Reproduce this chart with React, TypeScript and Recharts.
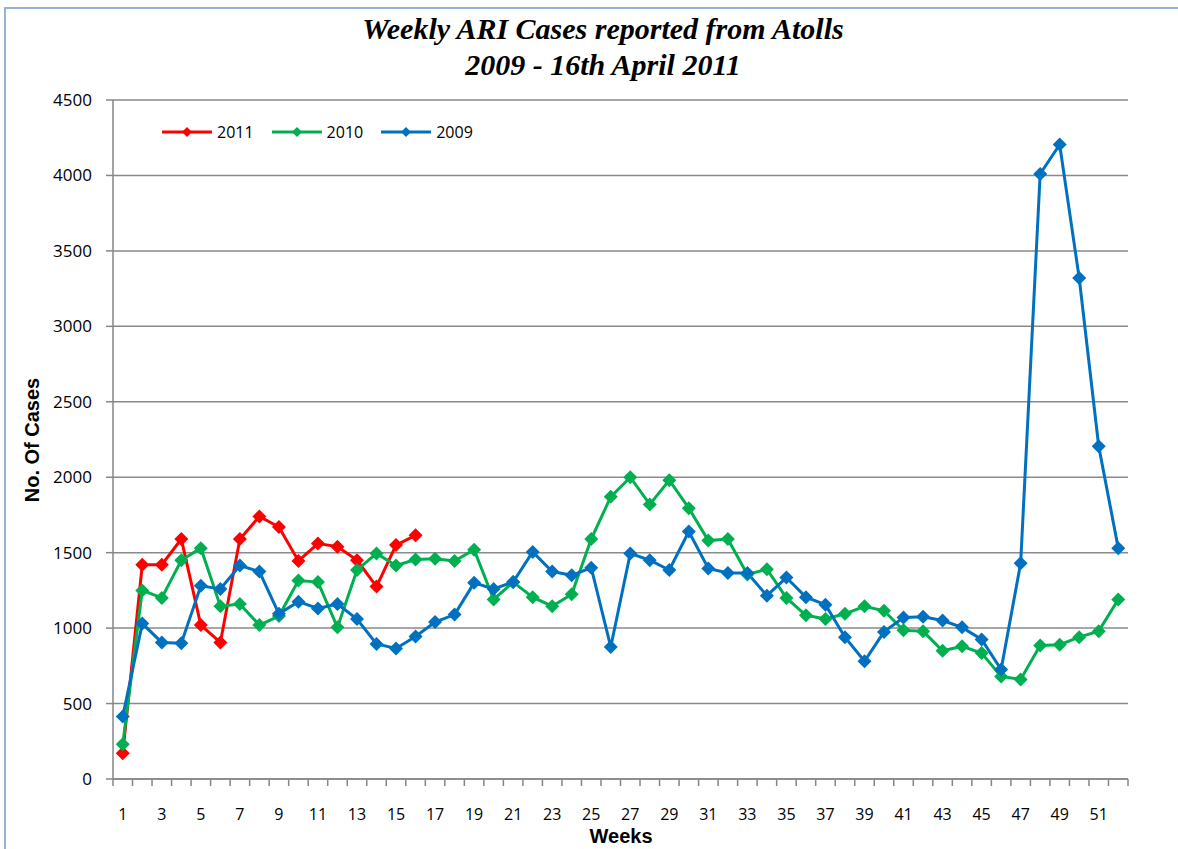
import { LineChart, Line, XAxis, YAxis, CartesianGrid } from "recharts";

const weeks = [
  1, 2, 3, 4, 5, 6, 7, 8, 9, 10, 11, 12, 13, 14, 15, 16, 17, 18, 19, 20, 21, 22, 23, 24, 25, 26,
  27, 28, 29, 30, 31, 32, 33, 34, 35, 36, 37, 38, 39, 40, 41, 42, 43, 44, 45, 46, 47, 48, 49, 50, 51, 52,
];

const cases2011 = [170, 1420, 1420, 1590, 1020, 905, 1590, 1740, 1670, 1445, 1560, 1540, 1450, 1275, 1550, 1615];

const cases2010 = [
  230, 1250, 1200, 1450, 1530, 1145, 1160, 1020, 1080, 1315, 1305, 1005, 1385, 1495, 1415, 1455, 1460,
  1445, 1520, 1190, 1305, 1205, 1145, 1225, 1590, 1870, 2000, 1820, 1980, 1795, 1580, 1590, 1355, 1390,
  1200, 1085, 1060, 1095, 1145, 1115, 985, 980, 850, 880, 835, 680, 660, 885, 890, 940, 980, 1190,
];

const cases2009 = [
  415, 1030, 905, 900, 1280, 1260, 1415, 1375, 1095, 1175, 1130, 1160, 1060, 895, 865, 945, 1040,
  1090, 1300, 1260, 1305, 1505, 1375, 1350, 1400, 875, 1495, 1450, 1385, 1640, 1395, 1365, 1365, 1215,
  1335, 1205, 1155, 940, 780, 975, 1070, 1075, 1050, 1005, 925, 725, 1430, 4010, 4205, 3320, 2205, 1530,
];

const xTickLabels = [1, 3, 5, 7, 9, 11, 13, 15, 17, 19, 21, 23, 25, 27, 29, 31, 33, 35, 37, 39, 41, 43, 45, 47, 49, 51];
const yTicks = [0, 500, 1000, 1500, 2000, 2500, 3000, 3500, 4000, 4500];

const series = [
  { key: "y2011", name: "2011", color: "#ff0000" },
  { key: "y2010", name: "2010", color: "#00b050" },
  { key: "y2009", name: "2009", color: "#0070c0" },
];

const data = weeks.map((w, i) => ({
  week: w,
  y2011: cases2011[i],
  y2010: cases2010[i],
  y2009: cases2009[i],
}));

// tick marks sit between weeks, labels on odd weeks
const boundaryTicks = weeks.map((w) => w - 0.5).concat(weeks[weeks.length - 1] + 0.5);
const allXTicks = [...boundaryTicks, ...xTickLabels];

const axisGray = "#868686";

function Diamond({ cx, cy, fill, r = 7 }: any) {
  if (cx == null || cy == null) return null;
  return <path d={`M${cx},${cy - r}L${cx + r},${cy}L${cx},${cy + r}L${cx - r},${cy}Z`} fill={fill} />;
}

function XTick({ x, y, payload }: any) {
  const v = payload.value;
  if (Number.isInteger(v)) {
    if (!xTickLabels.includes(v)) return <g />;
    return (
      <text x={x} y={y + 41} textAnchor="middle" fill="#000" fontSize={16} fontFamily="'Open Sans', sans-serif">
        {v}
      </text>
    );
  }
  return <line x1={x} x2={x} y1={y} y2={y + 7} stroke={axisGray} strokeWidth={1.5} />;
}

function ChartLegend() {
  return (
    <div
      style={{
        position: "absolute",
        left: 162,
        top: 123,
        display: "flex",
        alignItems: "center",
        fontFamily: "'Open Sans', sans-serif",
        fontSize: 16,
        lineHeight: "18px",
      }}
    >
      {series.map((s) => (
        <div key={s.key} style={{ display: "flex", alignItems: "center", marginRight: 18 }}>
          <svg width={50} height={14}>
            <line x1={0} x2={50} y1={7} y2={7} stroke={s.color} strokeWidth={3} />
            <Diamond cx={25} cy={7} r={5} fill={s.color} />
          </svg>
          <span style={{ marginLeft: 5 }}>{s.name}</span>
        </div>
      ))}
    </div>
  );
}

export default function App() {
  return (
    <div style={{ position: "absolute", left: 0, top: 0, width: 1178, height: 849, background: "#fff", overflow: "hidden" }}>
      <div
        style={{
          position: "absolute",
          left: 4,
          top: 7,
          width: 1300,
          height: 1000,
          borderLeft: "2px solid #95b3d7",
          borderTop: "2px solid #95b3d7",
        }}
      />
      <div
        style={{
          position: "absolute",
          left: 0,
          width: 1206,
          top: 11,
          textAlign: "center",
          fontFamily: "'Liberation Serif', 'Times New Roman', serif",
          fontWeight: "bold",
          fontStyle: "italic",
          fontSize: 30,
          lineHeight: "36px",
        }}
      >
        <div>Weekly ARI Cases reported from Atolls</div>
        <div>2009 - 16th April 2011</div>
      </div>
      <LineChart width={1178} height={849} data={data} margin={{ top: 100, right: 50, left: 0, bottom: 30 }}>
        <CartesianGrid horizontal vertical={false} stroke="#8a8a8a" strokeWidth={1.5} />
        <XAxis
          dataKey="week"
          type="number"
          domain={[0.5, 52.5]}
          ticks={allXTicks}
          interval={0}
          tick={<XTick />}
          tickLine={false}
          tickSize={0}
          tickMargin={0}
          height={40}
          axisLine={{ stroke: axisGray, strokeWidth: 1.5 }}
        />
        <YAxis
          type="number"
          domain={[0, 4500]}
          ticks={yTicks}
          interval={0}
          width={113}
          tickSize={7}
          tickMargin={14}
          tickLine={{ stroke: axisGray, strokeWidth: 1.5 }}
          axisLine={{ stroke: axisGray, strokeWidth: 1.5 }}
          tick={{ fill: "#000", fontSize: 17, fontFamily: "'Open Sans', sans-serif" }}
        />
        {series.map((s) => (
          <Line
            key={s.key}
            dataKey={s.key}
            name={s.name}
            type="linear"
            stroke={s.color}
            strokeWidth={3}
            dot={(p: any) => <Diamond key={`${s.key}-${p.index}`} cx={p.cx} cy={p.cy} fill={s.color} />}
            activeDot={false}
            isAnimationActive={false}
          />
        ))}
      </LineChart>
      <ChartLegend />
      <div
        style={{
          position: "absolute",
          left: 32,
          top: 440,
          transform: "translate(-50%, -50%) rotate(-90deg)",
          fontFamily: "'Liberation Sans', Arial, sans-serif",
          fontWeight: "bold",
          fontSize: 20,
          whiteSpace: "nowrap",
        }}
      >
        No. Of Cases
      </div>
      <div
        style={{
          position: "absolute",
          left: 621,
          top: 836,
          transform: "translate(-50%, -50%)",
          fontFamily: "'Liberation Sans', Arial, sans-serif",
          fontWeight: "bold",
          fontSize: 20,
          whiteSpace: "nowrap",
        }}
      >
        Weeks
      </div>
    </div>
  );
}
